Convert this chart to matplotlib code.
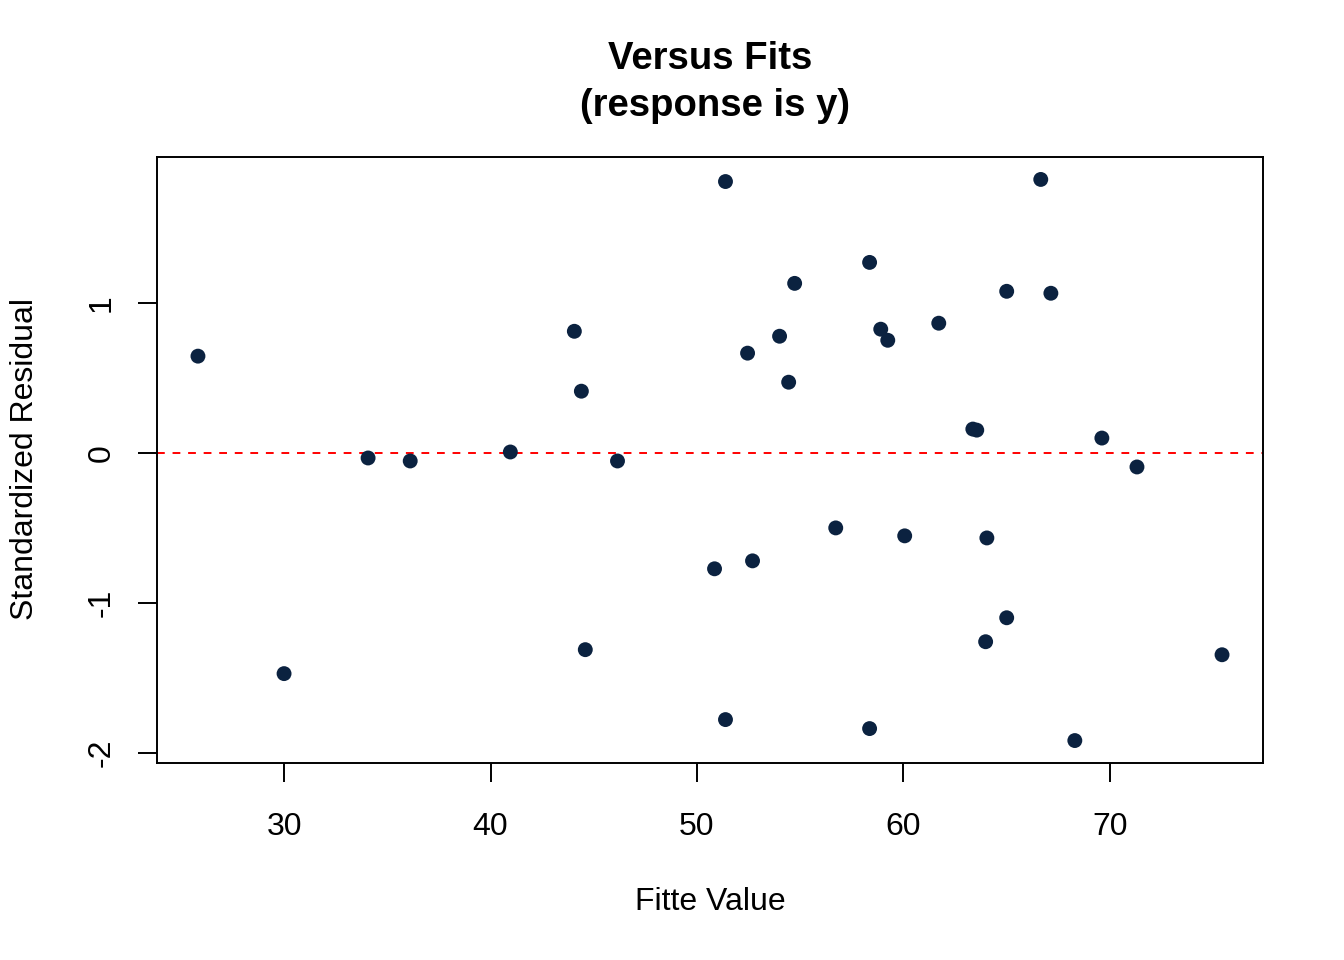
import matplotlib
matplotlib.use("Agg")
import matplotlib.pyplot as plt

plt.rcParams['font.family'] = ['Liberation Sans', 'DejaVu Sans']

# fitted values and standardized residuals
fitted = [25.83, 30.0, 34.07, 36.11, 40.96, 44.06, 44.40, 44.59, 46.15,
          50.85, 51.38, 51.38, 52.45, 52.69, 54.0, 54.44, 54.73, 56.72,
          58.36, 58.36, 58.90, 59.24, 60.06, 61.71, 63.36, 63.55, 63.98,
          64.04, 65.0, 65.0, 66.65, 67.14, 68.30, 69.61, 71.31, 75.43]
std_resid = [0.647, -1.473, -0.033, -0.053, 0.007, 0.813, 0.413, -1.313, -0.053,
             -0.773, 1.813, -1.78, 0.667, -0.72, 0.78, 0.473, 1.133, -0.5,
             1.273, -1.84, 0.827, 0.753, -0.553, 0.867, 0.16, 0.153, -1.26,
             -0.567, 1.08, -1.1, 1.827, 1.067, -1.92, 0.1, -0.093, -1.347]

xticks = [30, 40, 50, 60, 70]
yticks = [-2, -1, 0, 1]

W, H = 1344, 960
fig = plt.figure(figsize=(W / 100, H / 100), dpi=100)
ax = fig.add_axes([157 / W, 1 - 763 / H, (1263 - 157) / W, (763 - 157) / H])

ax.scatter(fitted, std_resid, s=115, color='#0b2240', edgecolors='none', zorder=3)
ax.axhline(0, color='#ff0000', lw=1.4, ls=(0, (4, 4)), zorder=2)

# R style range: data range +4%
xr = max(fitted) - min(fitted)
yr = max(std_resid) - min(std_resid)
ax.set_xlim(min(fitted) - 0.04 * xr, max(fitted) + 0.04 * xr)
ax.set_ylim(min(std_resid) - 0.04 * yr, max(std_resid) + 0.04 * yr)

ax.set_xticks(xticks)
ax.set_yticks(yticks)
ax.set_xticklabels([str(t) for t in xticks])
ax.set_yticklabels([str(t) for t in yticks], rotation=90, va='center')
ax.tick_params(axis='both', direction='out', length=14, width=1.4,
               labelsize=23, color='black')
ax.tick_params(axis='x', pad=21)
ax.tick_params(axis='y', pad=15)
for sp in ax.spines.values():
    sp.set_linewidth(1.4)

fig.text(710 / W, 1 - 59 / H, 'Versus Fits', ha='center', va='center',
         fontsize=27.5, fontweight='bold')
fig.text(715 / W, 1 - 106 / H, '(response is y)', ha='center', va='center',
         fontsize=27.5, fontweight='bold')
fig.text(710 / W, 1 - 902 / H, 'Fitte Value', ha='center', va='center', fontsize=23)
fig.text(25 / W, 1 - 459 / H, 'Standardized Residual', ha='center', va='center',
         fontsize=23, rotation=90)

fig.savefig('out.png', dpi=100)
